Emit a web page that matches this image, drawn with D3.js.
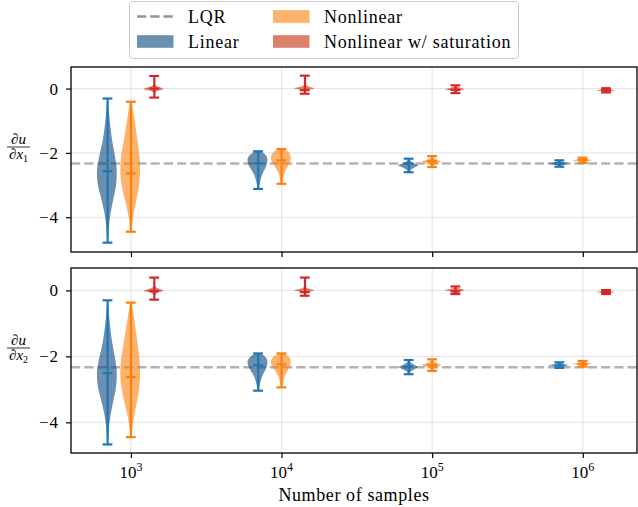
<!DOCTYPE html>
<html>
<head>
<meta charset="utf-8">
<script src="https://cdn.jsdelivr.net/npm/d3@7"></script>
<style>
  body { margin: 0; background: #fff; }
  svg text { font-family: "Liberation Serif", "Times New Roman", serif; fill: #000; }
</style>
</head>
<body>
<svg id="chart" width="638" height="507"></svg>
<script>
const samples = [1e3, 1e4, 1e5, 1e6];
const groups = ["Linear", "Nonlinear", "Nonlinear w/ saturation"];
const offsets = [0.7, 1, 1.43];
const lqrValue = [-2.33, -2.33];
const yTicks = [0, -2, -4];

// du/dx1, indexed [group][sample]
const x1Min = [[-4.79, -3.12, -2.60, -2.43], [-4.45, -2.96, -2.44, -2.31], [-0.28, -0.16, -0.14, -0.12]];
const x1Max = [[-0.31, -1.95, -2.18, -2.23], [-0.41, -1.88, -2.10, -2.15], [0.39, 0.40, 0.10, 0.01]];
const x1Med = [[-2.57, -2.32, -2.33, -2.33], [-2.64, -2.23, -2.25, -2.22], [0.0, -0.05, -0.04, -0.05]];

// du/dx2, indexed [group][sample]
const x2Min = [[-4.67, -3.04, -2.54, -2.35], [-4.45, -2.94, -2.44, -2.31], [-0.28, -0.16, -0.11, -0.11]];
const x2Max = [[-0.30, -1.91, -2.11, -2.18], [-0.37, -1.91, -2.09, -2.14], [0.39, 0.39, 0.12, 0.01]];
const x2Med = [[-2.51, -2.27, -2.31, -2.28], [-2.63, -2.24, -2.26, -2.23], [-0.02, -0.05, -0.03, -0.05]];

// violin density profiles (11 points, bottom to top), [group][sample]
const density = [
  [
    [0.03, 0.12, 0.3, 0.6, 0.92, 1.0, 0.8, 0.5, 0.3, 0.15, 0.04],
    [0.05, 0.12, 0.2, 0.3, 0.45, 0.65, 0.85, 0.98, 1.0, 0.8, 0.3],
    [0.05, 0.12, 0.25, 0.45, 0.75, 1.0, 0.75, 0.45, 0.25, 0.12, 0.05],
    [0.05, 0.12, 0.25, 0.45, 0.75, 1.0, 0.75, 0.45, 0.25, 0.12, 0.05]
  ],
  [
    [0.05, 0.2, 0.45, 0.75, 0.95, 1.0, 0.9, 0.7, 0.5, 0.3, 0.08],
    [0.05, 0.12, 0.2, 0.3, 0.45, 0.65, 0.85, 1.0, 0.98, 0.8, 0.3],
    [0.05, 0.12, 0.25, 0.45, 0.75, 1.0, 0.75, 0.45, 0.25, 0.12, 0.05],
    [0.05, 0.12, 0.25, 0.45, 0.75, 1.0, 0.75, 0.45, 0.25, 0.12, 0.05]
  ],
  [
    [0.02, 0.04, 0.08, 0.3, 1.0, 0.45, 0.1, 0.05, 0.03, 0.02, 0.01],
    [0.03, 0.1, 0.4, 1.0, 0.35, 0.08, 0.04, 0.03, 0.02, 0.02, 0.01],
    [0.05, 0.1, 0.2, 0.4, 0.7, 1.0, 0.8, 0.5, 0.25, 0.1, 0.05],
    [0.05, 0.12, 0.25, 0.45, 0.75, 1.0, 0.75, 0.45, 0.25, 0.12, 0.05]
  ]
];

const lineColors = ["#1f77b4", "#ff7f0e", "#d62728"];
const bodyColors = ["#08447b", "#fc8008", "#c32b08"];
const bodyAlpha = 0.6;

const svg = d3.select("#chart");
const left = 71, right = 637;

const x = d3.scaleLog().domain([400, 2.29e6]).range([left, right]);

const panels = [
  { top: 67, bottom: 252, domain: [-5.08, 0.67], mins: x1Min, maxs: x1Max, meds: x1Med, sub: "1", lqr: lqrValue[0], labels: false },
  { top: 268, bottom: 453, domain: [-4.93, 0.68], mins: x2Min, maxs: x2Max, meds: x2Med, sub: "2", lqr: lqrValue[1], labels: true }
];

panels.forEach((p) => {
  const y = d3.scaleLinear().domain(p.domain).range([p.bottom, p.top]);
  const g = svg.append("g");

  // grid
  g.selectAll(".vgrid").data(samples).enter().append("line")
    .attr("x1", (d) => x(d)).attr("x2", (d) => x(d))
    .attr("y1", p.top).attr("y2", p.bottom)
    .attr("stroke", "#b0b0b0").attr("stroke-opacity", 0.3).attr("stroke-width", 1.2);
  g.selectAll(".hgrid").data(yTicks).enter().append("line")
    .attr("x1", left).attr("x2", right)
    .attr("y1", (d) => y(d)).attr("y2", (d) => y(d))
    .attr("stroke", "#b0b0b0").attr("stroke-opacity", 0.3).attr("stroke-width", 1.2);

  // LQR reference
  g.append("line")
    .attr("x1", left).attr("x2", right)
    .attr("y1", y(p.lqr)).attr("y2", y(p.lqr))
    .attr("stroke", "gray").attr("stroke-opacity", 0.6)
    .attr("stroke-width", 2.5).attr("stroke-dasharray", "9.25,4");

  groups.forEach((grp, gi) => {
    samples.forEach((n, si) => {
      const pos = n * offsets[gi];
      const lo = p.mins[gi][si], hi = p.maxs[gi][si];
      const dens = density[gi][si];
      const pts = dens.map((d, k) => ({ v: lo + (hi - lo) * k / (dens.length - 1), d }));
      const area = d3.area()
        .y((d) => y(d.v))
        .x0((d) => x(pos * (1 - 0.15 * d.d)))
        .x1((d) => x(pos * (1 + 0.15 * d.d)))
        .curve(d3.curveCatmullRom);
      g.append("path").datum(pts).attr("d", area)
        .attr("fill", bodyColors[gi]).attr("fill-opacity", bodyAlpha);

      const c = lineColors[gi];
      g.append("line")
        .attr("x1", x(pos)).attr("x2", x(pos))
        .attr("y1", y(lo)).attr("y2", y(hi))
        .attr("stroke", c).attr("stroke-width", 2.2);
      [lo, hi, p.meds[gi][si]].forEach((v) => {
        g.append("line")
          .attr("x1", x(pos * 0.925)).attr("x2", x(pos * 1.075))
          .attr("y1", y(v)).attr("y2", y(v))
          .attr("stroke", c).attr("stroke-width", 2.2);
      });
    });
  });

  // frame
  g.append("rect")
    .attr("x", left).attr("y", p.top)
    .attr("width", right - left).attr("height", p.bottom - p.top)
    .attr("fill", "none").attr("stroke", "#000").attr("stroke-width", 1.3);

  // y axis
  const yAxis = d3.axisLeft(y).tickValues(yTicks).tickSize(5).tickPadding(7)
    .tickFormat((d) => (d < 0 ? "\u2212" + Math.abs(d) : String(d)));
  const ya = g.append("g").attr("transform", `translate(${left},0)`).call(yAxis);
  ya.select(".domain").remove();
  ya.selectAll("line").attr("stroke-width", 1.2);
  ya.selectAll("text").attr("font-size", 17).style("letter-spacing", "1px")
    .style("font-family", "Liberation Serif, serif");

  // x axis
  const xAxis = d3.axisBottom(x).tickValues(samples).tickSize(5).tickFormat("");
  const xa = g.append("g").attr("transform", `translate(0,${p.bottom})`).call(xAxis);
  xa.select(".domain").remove();
  xa.selectAll("line").attr("stroke-width", 1.2);

  if (p.labels) {
    samples.forEach((n) => {
      const t = g.append("text")
        .attr("x", x(n)).attr("y", p.bottom + 25)
        .attr("text-anchor", "middle").attr("font-size", 17);
      t.append("tspan").text("10");
      t.append("tspan").attr("dy", -7).attr("font-size", 12).text(Math.round(Math.log10(n)));
    });
  }

  // y label as fraction
  const cy = (p.top + p.bottom) / 2 - 12.5;
  const lab = g.append("g").attr("transform", `translate(18.5,${cy})`);
  lab.append("line").attr("x1", -11.5).attr("x2", 11.5).attr("y1", 0).attr("y2", 0)
    .attr("stroke", "#000").attr("stroke-width", 0.8);
  lab.append("text").attr("text-anchor", "middle").attr("y", -3).attr("font-size", 15)
    .attr("font-style", "italic").text("\u2202u");
  const den = lab.append("text").attr("text-anchor", "middle").attr("y", 12).attr("font-size", 15)
    .attr("font-style", "italic");
  den.append("tspan").text("\u2202x");
  den.append("tspan").attr("dy", 2.5).attr("font-size", 10).attr("font-style", "normal").text(p.sub);
});

// x axis label
svg.append("text")
  .attr("x", (left + right) / 2).attr("y", 501)
  .attr("text-anchor", "middle").attr("font-size", 18).style("letter-spacing", "0.6px")
  .text("Number of samples");

// legend
const leg = svg.append("g");
leg.append("rect")
  .attr("x", 129.5).attr("y", 1.5).attr("width", 389).attr("height", 57).attr("rx", 3)
  .attr("fill", "#fff").attr("fill-opacity", 0.8).attr("stroke", "#cccccc").attr("stroke-width", 1);

const legendItems = [
  { label: "LQR", kind: "line", col: 0, row: 0 },
  { label: groups[0], kind: 0, col: 0, row: 1 },
  { label: groups[1], kind: 1, col: 1, row: 0 },
  { label: groups[2], kind: 2, col: 1, row: 1 }
];
const colX = [137, 273], rowY = [16.5, 41.5];
legendItems.forEach((it) => {
  const hx = colX[it.col], hy = rowY[it.row];
  if (it.kind === "line") {
    leg.append("line").attr("x1", hx).attr("x2", hx + 36).attr("y1", hy).attr("y2", hy)
      .attr("stroke", "gray").attr("stroke-opacity", 0.85)
      .attr("stroke-width", 2.5).attr("stroke-dasharray", "9.25,4");
  } else {
    leg.append("rect").attr("x", hx).attr("y", hy - 6.3).attr("width", 36.5).attr("height", 12.6)
      .attr("fill", bodyColors[it.kind]).attr("fill-opacity", bodyAlpha);
  }
  leg.append("text").attr("x", hx + 51).attr("y", hy + 6).attr("font-size", 18)
    .style("letter-spacing", "0.75px").text(it.label);
});
</script>
</body>
</html>
